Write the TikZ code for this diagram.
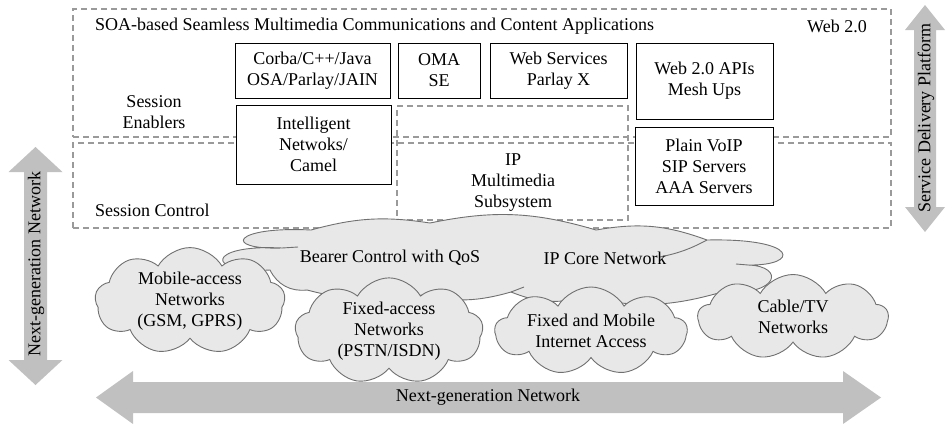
\documentclass[tikz,border=0pt]{standalone}
\usepackage{fontspec}
\setmainfont{Liberation Serif}
\usetikzlibrary{shapes.symbols}
\definecolor{dashgray}{HTML}{9A9A9A}
\definecolor{cloudfill}{HTML}{E8E8E8}
\definecolor{cloudline}{HTML}{707070}
\definecolor{arrowgray}{HTML}{C0C0C0}
\begin{document}
\begin{tikzpicture}[x=1pt,y=-1pt,
  every node/.style={font=\fontsize{18}{21}\selectfont, align=center, inner sep=0pt},
  layerbox/.style={draw=dashgray, line width=1.2pt, dash pattern=on 6pt off 4pt},
  plainbox/.style={draw=black, line width=0.9pt, fill=white},
  puff/.style={cloud, cloud ignores aspect, draw=cloudline, fill=cloudfill,
    line width=0.9pt, cloud puffs=9, cloud puff arc=120},
  cloudpath/.style={draw=cloudline, fill=cloudfill, line width=0.9pt, line join=miter},
  cloudtail/.style={draw=cloudline, line width=0.9pt},
  bigarrow/.style={fill=arrowgray, draw=none}]
\useasboundingbox (0,0) rectangle (949,426);

% service layers
\node[layerbox, minimum width=818, minimum height=128] (enablers) at (482,73) {};
\node[layerbox, minimum width=818, minimum height=85] (control) at (482,185.5) {};
\node[layerbox, minimum width=231, minimum height=114] (ims) at (512.5,163) {};

\node[anchor=west] (soa) at (95,26) {SOA-based Seamless Multimedia Communications and Content Applications};
\node (web) at (837,26) {Web 2.0};
\node (enabtext) at (154,112.5) {Session\\Enablers};
\node[anchor=west] (ctrltext) at (95,210) {Session Control};
\node (imstext) at (513,183) {IP\\Multimedia\\Subsystem};

% service building blocks
\node[plainbox, minimum width=155, minimum height=55] (corba) at (312.5,70.5) {Corba/C++/Java\\OSA/Parlay/JAIN};
\node[plainbox, minimum width=82, minimum height=55] (oma) at (439,70.5) {OMA\\SE};
\node[plainbox, minimum width=137, minimum height=55] (ws) at (558.5,70.5) {Web Services\\Parlay X};
\node[plainbox, minimum width=137, minimum height=76] (apis) at (704.5,81) {Web 2.0 APIs\\Mesh Ups};
\node[plainbox, minimum width=138, minimum height=78] (voip) at (704,166) {Plain VoIP\\SIP Servers\\AAA Servers};
\node[plainbox, minimum width=155, minimum height=79] (intel) at (313.5,144.5) {Intelligent\\Netwoks/\\Camel};

% core network cloud, drawn lobe by lobe
\path[cloudpath] (270,270)
  .. controls (205,274) and (205,244) .. (282,248)
  .. controls (222,250) and (232,226) .. (311,230)
  to[bend left=12] (430,223)
  to[bend left=14] (596,230)
  to[bend left=15] (707,240)
  .. controls (800,238) and (800,266) .. (748,265)
  .. controls (785,266) and (780,296) .. (722,292)
  to[bend left=14] (585,297)
  to[bend left=18] (511,292)
  to[bend left=14] (422,295)
  to[bend left=12] (307,290)
  to[bend left=35] (270,270) -- cycle;
\draw[cloudtail] (707,240) to[bend left=8] (660,257);
\draw[cloudtail] (748,265) -- (736,264);
\draw[cloudtail] (282,248) -- (298,247);
\draw[cloudtail] (511,292) -- (524,287);
\node (bearer) at (390,258) {Bearer Control with QoS};
\node (ipcore) at (605,258) {IP Core Network};

% access network clouds
\node[puff, minimum width=190, minimum height=78] (mobile) at (190,301) {Mobile-access\\Networks\\(GSM, GPRS)};
\node[puff, minimum width=188, minimum height=86] (fixed) at (389,331) {Fixed-access\\Networks\\(PSTN/ISDN)};
\node[puff, minimum width=192, minimum height=88] (inet) at (591,331) {Fixed and Mobile\\Internet Access};
\node[puff, minimum width=190, minimum height=85] (cable) at (793,317) {Cable/TV\\Networks};

% scope arrows
\fill[bigarrow] (925,5) -- (945,30) -- (936,30) -- (936,207) -- (945,207) -- (925,232)
  -- (905,207) -- (914,207) -- (914,30) -- (905,30) -- cycle;
\node[rotate=90] (sdp) at (926,118) {Service Delivery Platform};

\fill[bigarrow] (35.5,147) -- (62.5,172) -- (47,172) -- (47,360) -- (62.5,360) -- (35.5,385)
  -- (8.5,360) -- (24,360) -- (24,172) -- (8.5,172) -- cycle;
\node[rotate=90] (ngnv) at (36,264) {Next-generation Network};

\fill[bigarrow] (96,397.5) -- (133,371) -- (133,382) -- (843,382) -- (843,371) -- (881,397.5)
  -- (843,424) -- (843,413) -- (133,413) -- (133,424) -- cycle;
\node (ngnh) at (488,397.5) {Next-generation Network};
\end{tikzpicture}
\end{document}
